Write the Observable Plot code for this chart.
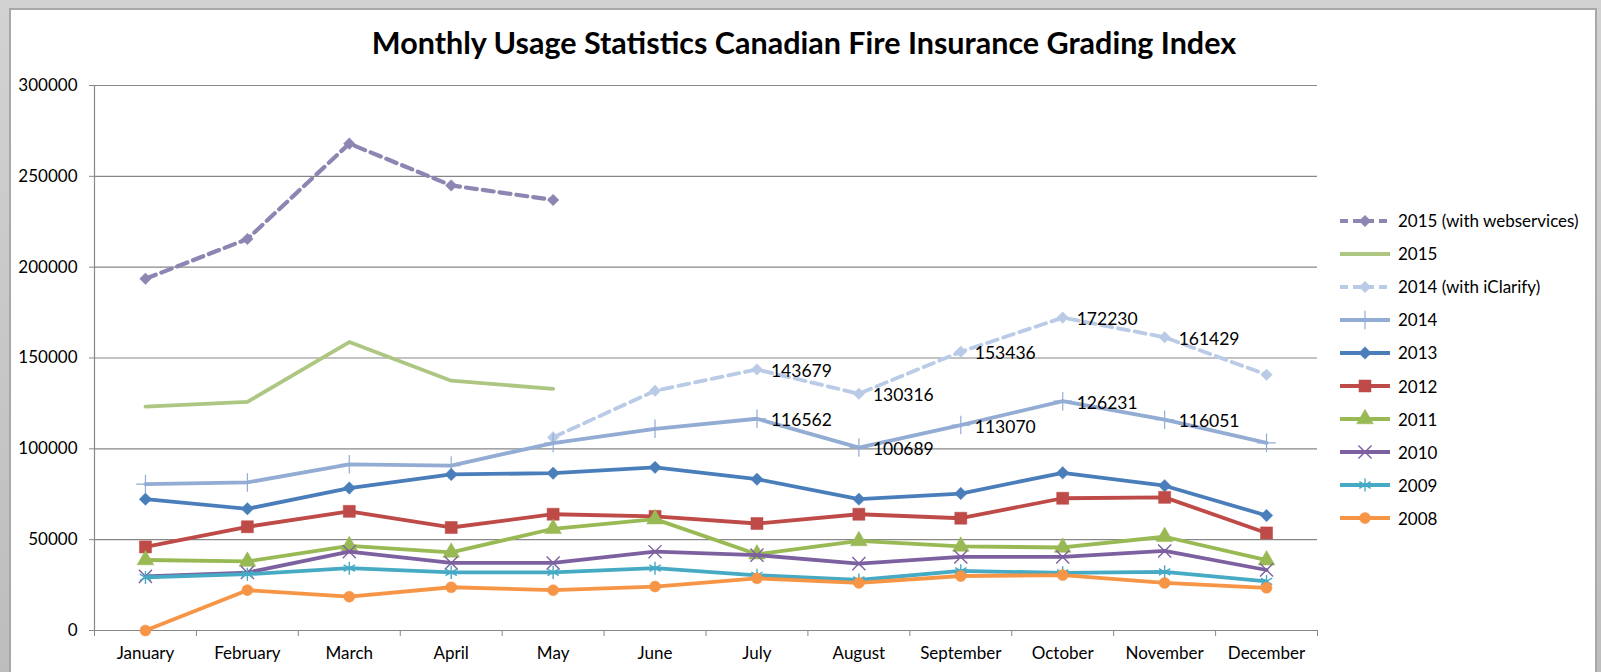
<!DOCTYPE html>
<html><head><meta charset="utf-8">
<script src="https://cdn.jsdelivr.net/npm/d3@7"></script>
<script src="https://cdn.jsdelivr.net/npm/@observablehq/plot@0.6"></script>
<style>
html,body{margin:0;padding:0;width:1601px;height:672px;overflow:hidden;background:linear-gradient(180deg,#d2d2d2,#bdbdbd);font-family:Lato,"Open Sans",sans-serif;}
#panel{position:absolute;left:9px;top:8px;width:1588px;height:720px;background:#fff;border:2px solid #a8a8a8;box-sizing:border-box;}
#title{position:absolute;left:0;top:24px;width:1608px;text-align:center;font-weight:bold;font-size:30.5px;color:#000;}
#chart{position:absolute;left:0;top:0;}
#legend{position:absolute;left:1338px;top:0;}
.lrow{position:absolute;left:0;height:22px;display:flex;align-items:center;white-space:nowrap;font-size:17px;color:#000;}
.lrow svg{display:block;margin-right:6px;}
</style></head>
<body>
<div id="panel"></div>
<div id="title">Monthly Usage Statistics Canadian Fire Insurance Grading Index</div>
<div id="chart"></div>
<div id="legend"></div>
<script>
// ---- data ----
const months = ["January","February","March","April","May","June","July","August","September","October","November","December"];
const yTicks = [0, 50000, 100000, 150000, 200000, 250000, 300000];
const seriesNames = ["2015 (with webservices)","2015","2014 (with iClarify)","2014","2013","2012","2011","2010","2009","2008"];
const s2015ws   = [193600, 215500, 268000, 245000, 237000, null, null, null, null, null, null, null];
const s2015     = [123200, 125800, 158800, 137500, 133000, null, null, null, null, null, null, null];
const s2014iCl  = [null, null, null, null, 106300, 132000, 143679, 130316, 153436, 172230, 161429, 140800];
const s2014     = [80600, 81500, 91500, 90800, 103200, 111000, 116562, 100689, 113070, 126231, 116051, 103300];
const s2013     = [72300, 67000, 78400, 85900, 86600, 89800, 83300, 72300, 75400, 86800, 79700, 63300];
const s2012     = [46000, 57100, 65600, 56700, 64000, 62800, 58900, 64000, 61800, 72800, 73300, 53700];
const s2011     = [38800, 38000, 46600, 43000, 56000, 61300, 42000, 49300, 46300, 45700, 51600, 38700];
const s2010     = [29800, 31900, 43400, 37200, 37200, 43400, 41500, 36800, 40500, 40500, 43800, 33300];
const s2009     = [29200, 31000, 34300, 32000, 32000, 34300, 30400, 27800, 32800, 31700, 32300, 27000];
const s2008     = [0, 22200, 18600, 23800, 22200, 24200, 28700, 26200, 30000, 30500, 26200, 23500];
const seriesValues = [s2015ws, s2015, s2014iCl, s2014, s2013, s2012, s2011, s2010, s2009, s2008];
const labeledSeries = ["2014 (with iClarify)", "2014"];
const labeledMonths = ["July","August","September","October","November"];

// ---- styles ----
const styles = {
  "2015 (with webservices)": {color:"#8d86b3", dash:"11,6", width:4.2, symbol:"diamond2", r:5.2, filled:true},
  "2015":                    {color:"#adc783", dash:null, width:3.8, symbol:null},
  "2014 (with iClarify)":    {color:"#b9cbe6", dash:"11,6", width:3.8, symbol:"diamond2", r:5.2, filled:true},
  "2014":                    {color:"#93acd4", dash:null, width:3.8, symbol:"plus", r:6, filled:false, sw:1.2},
  "2013":                    {color:"#4a7ebb", dash:null, width:3.8, symbol:"diamond2", r:5.6, filled:true},
  "2012":                    {color:"#be4b48", dash:null, width:3.8, symbol:"square", r:6.8, filled:true},
  "2011":                    {color:"#98b954", dash:null, width:3.8, symbol:"triangle", r:6.2, filled:true},
  "2010":                    {color:"#7d60a0", dash:null, width:3.8, symbol:"times", r:6, filled:false, sw:1.4},
  "2009":                    {color:"#46aac5", dash:null, width:3.8, symbol:"asterisk", r:6.2, filled:false, sw:1.4},
  "2008":                    {color:"#f69546", dash:null, width:3.8, symbol:"circle", r:5.5, filled:true}
};

const rowsBySeries = seriesNames.map((name, i) =>
  months.map((m, j) => ({series: name, month: m, x: j + 0.5, value: seriesValues[i][j]})));

const marks = [
  Plot.gridY(yTicks, {stroke:"#878787", strokeOpacity:1, strokeWidth:1.2}),
  Plot.ruleX([0], {stroke:"#878787", strokeWidth:1.2}),
  Plot.ruleY([0], {stroke:"#878787", strokeWidth:1.2}),
  Plot.axisY({ticks: yTicks, tickFormat: d => String(d), tickSize: 5, tickPadding: 12, fontSize: 17, stroke:"#878787", label:null, fill:"#000"}),
  Plot.axisX({ticks: d3.range(0, 13), tickFormat: () => "", tickSize: 6, stroke:"#878787", label:null}),
  Plot.text(months.map((m, j) => ({m, x: j + 0.5})), {x:"x", y: () => 0, text:"m", dy: 23, fontSize: 17, fill:"#000"})
];

seriesNames.forEach((name, i) => {
  const s = styles[name];
  const rows = rowsBySeries[i];
  marks.push(Plot.line(rows, {x:"x", y:"value", stroke:s.color, strokeWidth:s.width, strokeDasharray:s.dash || undefined, strokeLinejoin:"round"}));
  if (s.symbol) {
    const pts = rows.filter(d => d.value != null);
    marks.push(Plot.dot(pts, s.filled
      ? {x:"x", y:"value", symbol:s.symbol, r:s.r, fill:s.color, stroke:s.color, strokeWidth:0.5}
      : {x:"x", y:"value", symbol:s.symbol, r:s.r, stroke:s.color, strokeWidth:s.sw || 1.2, fill:"none"}));
  }
});

labeledSeries.forEach(name => {
  const i = seriesNames.indexOf(name);
  const rows = rowsBySeries[i].filter(d => labeledMonths.includes(d.month));
  marks.push(Plot.text(rows, {x:"x", y:"value", text: d => String(d.value), textAnchor:"start", dx: 14, dy: 2, fontSize: 17.5, fill:"#000"}));
});

const chart = Plot.plot({
  width: 1601, height: 672,
  marginLeft: 94, marginRight: 284, marginTop: 85, marginBottom: 42,
  style: {background:"transparent", fontFamily:"Lato, 'Open Sans', sans-serif", overflow:"visible"},
  x: {type:"linear", domain:[0, 12]},
  y: {type:"linear", domain:[0, 300000]},
  marks
});
document.getElementById("chart").appendChild(chart);

// ---- legend ----
const legend = d3.select("#legend");
const legendTop = 220.5, legendStep = 33.1;
seriesNames.forEach((name, i) => {
  const s = styles[name];
  const row = legend.append("div").attr("class","lrow").style("top", (legendTop + i*legendStep - 11) + "px");
  const svg = row.append("svg").attr("width", 54).attr("height", 22);
  svg.append("line").attr("x1", 2).attr("x2", 52).attr("y1", 11).attr("y2", 11)
    .attr("stroke", s.color).attr("stroke-width", s.width)
    .attr("stroke-dasharray", s.dash ? "8,5" : null);
  if (s.symbol) {
    const sym = {diamond2: d3.symbolDiamond2, plus: d3.symbolPlus, square: d3.symbolSquare, triangle: d3.symbolTriangle, times: d3.symbolTimes, asterisk: d3.symbolAsterisk, circle: d3.symbolCircle}[s.symbol];
    svg.append("path").attr("transform","translate(27,11)")
      .attr("d", d3.symbol(sym, Math.PI * s.r * s.r)())
      .attr("fill", s.filled ? s.color : "none").attr("stroke", s.color).attr("stroke-width", s.filled ? 0.5 : (s.sw || 1.2));
  }
  row.append("span").text(name);
});
</script>
</body></html>
